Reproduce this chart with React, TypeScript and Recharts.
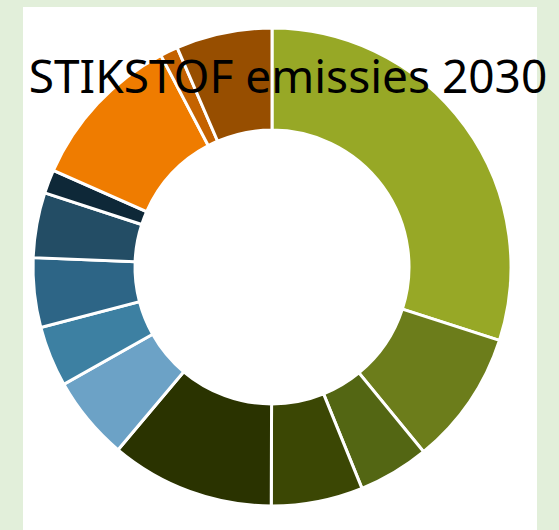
import { PieChart, Pie, Cell } from 'recharts'

// sector names are unknown in the picture, so they are numbered
const categories = ['s1', 's2', 's3', 's4', 's5', 's6', 's7', 's8', 's9', 's10', 's11', 's12', 's13']
const shares = [30.0, 9.1, 4.8, 6.2, 11.1, 5.7, 4.1, 4.7, 4.4, 1.6, 10.7, 1.2, 6.5]
const colors = [
  '#97a826', '#6c7d1b', '#536613', '#3b4704', '#2a3300',
  '#6ca2c6', '#3d80a2', '#2d6586', '#234d65', '#0e2838',
  '#ef7c00', '#c46200', '#974e00',
]
const title = 'STIKSTOF emissies 2030'

const data = categories.map((name, i) => ({ name, value: shares[i] }))

export default function App() {
  return (
    <div
      style={{
        position: 'absolute',
        left: 0,
        top: 0,
        width: 559,
        height: 530,
        background: '#e2efda',
        overflow: 'hidden',
      }}
    >
      <div
        style={{
          position: 'absolute',
          left: 23,
          top: 7,
          width: 514,
          height: 530,
          background: '#ffffff',
        }}
      />
      <div style={{ position: 'absolute', left: 0, top: 0 }}>
        <PieChart width={559} height={530} margin={{ top: 0, right: 0, bottom: 0, left: 0 }}>
          <Pie
            data={data}
            dataKey="value"
            nameKey="name"
            cx={272}
            cy={267}
            innerRadius={137}
            outerRadius={239}
            startAngle={90}
            endAngle={-270}
            stroke="#ffffff"
            strokeWidth={3}
            isAnimationActive={false}
          >
            {data.map((d, i) => (
              <Cell key={d.name} fill={colors[i]} />
            ))}
          </Pie>
        </PieChart>
      </div>
      <div
        style={{
          position: 'absolute',
          left: 0,
          width: 576,
          top: 47,
          textAlign: 'center',
          fontFamily: '"Noto Sans", sans-serif',
          fontSize: 46,
          lineHeight: '56px',
          color: '#000000',
          whiteSpace: 'nowrap',
        }}
      >
        {title}
      </div>
    </div>
  )
}
